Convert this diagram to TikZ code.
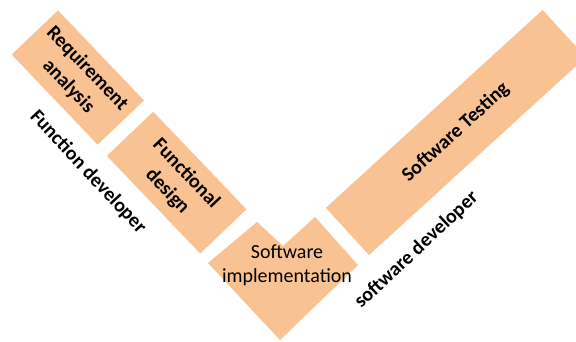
\documentclass[tikz,border=0pt]{standalone}
\usepackage{fontspec}
\setmainfont{Carlito}
\definecolor{peach}{RGB}{248,194,146}
\tikzset{
  phase/.style={fill=peach, minimum height=64pt, inner sep=0pt, align=center,
    font=\fontsize{20}{26}\selectfont\bfseries},
  role/.style={font=\fontsize{20}{24}\selectfont\bfseries}
}
\begin{document}
\begin{tikzpicture}[x=1pt,y=1pt]
  \useasboundingbox (0,0) rectangle (576,341);
  \clip (0,0) rectangle (576,341);

  %Left branch
  \node[phase, rotate=-46.3, minimum width=124.5pt] (req) at (77.8,263.5) {Requirement\\analysis};
  \node[phase, rotate=-46.3, minimum width=135pt] (fun) at (176.7,158.4) {Functional\\design};

  %Bottom
  \fill[peach] (208,78) -- (257,119) -- (283,95) -- (315,124) -- (358,76) -- (280,1) -- cycle;
  \node[align=center, font=\fontsize{20}{24}\selectfont] (impl) at (287,76) {Software\\implementation};

  %Right branch
  \node[phase, rotate=42.4, minimum width=293.5pt] (test) at (455.8,208.5) {Software Testing};

  %Roles
  \node[role, rotate=-47] (fdev) at (88,169) {Function developer};
  \node[role, rotate=43] (sdev) at (416.5,91) {software developer};
\end{tikzpicture}
\end{document}
